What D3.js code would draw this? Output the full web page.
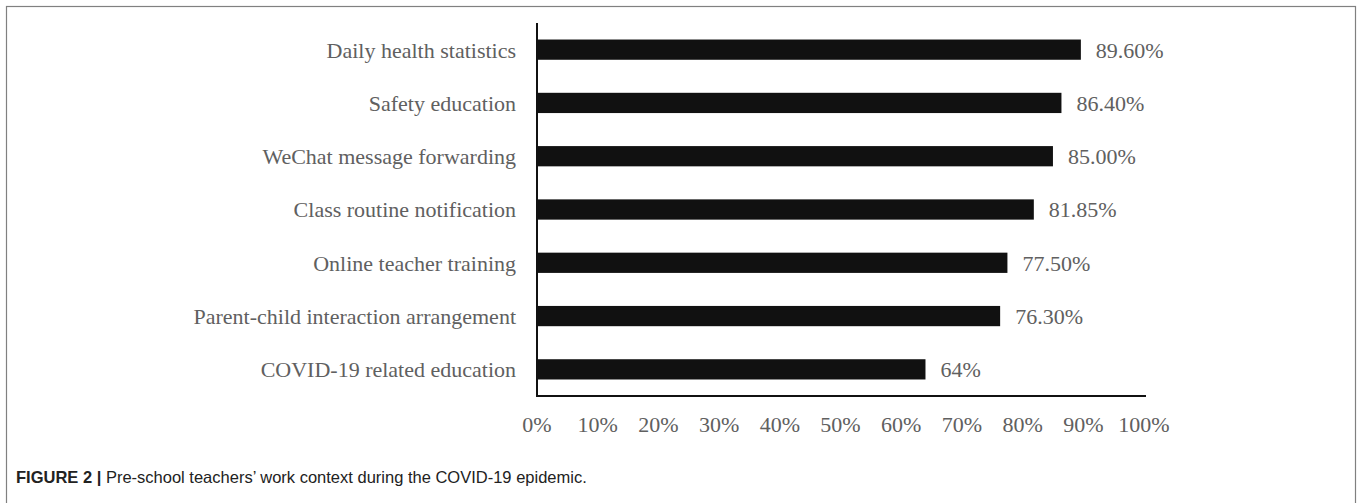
<!DOCTYPE html>
<html>
<head>
<meta charset="utf-8">
<script src="https://cdn.jsdelivr.net/npm/d3@7"></script>
<style>
  html, body { margin: 0; padding: 0; background: #fff; }
  svg { display: block; }
</style>
</head>
<body>
<svg id="chart" width="1357" height="503"></svg>
<script>
// data
var categories = [
  "Daily health statistics",
  "Safety education",
  "WeChat message forwarding",
  "Class routine notification",
  "Online teacher training",
  "Parent-child interaction arrangement",
  "COVID-19 related education"
];
var values = [89.6, 86.4, 85.0, 81.85, 77.5, 76.3, 64];
var valueLabels = ["89.60%", "86.40%", "85.00%", "81.85%", "77.50%", "76.30%", "64%"];
var xTicks = [0, 10, 20, 30, 40, 50, 60, 70, 80, 90, 100];

var svg = d3.select("#chart");
var serif = "'Liberation Serif', 'Times New Roman', serif";
var grey = "#606060";
var fs = 22;

// frame round the figure
svg.append("rect")
  .attr("x", 6.5).attr("y", 6.5)
  .attr("width", 1349).attr("height", 520)
  .attr("fill", "none")
  .attr("stroke", "#808080")
  .attr("stroke-width", 1.2);

var x = d3.scaleLinear().domain([0, 100]).range([537, 1144]);
var y = d3.scaleBand().domain(categories).range([23, 396]).paddingInner(0.62).paddingOuter(0.31);

// bars
svg.selectAll("rect.bar")
  .data(values)
  .enter().append("rect")
  .attr("class", "bar")
  .attr("x", x(0))
  .attr("y", function(d, i){ return y(categories[i]); })
  .attr("width", function(d){ return x(d) - x(0); })
  .attr("height", y.bandwidth())
  .attr("fill", "#111");

// value labels
svg.selectAll("text.val")
  .data(values)
  .enter().append("text")
  .attr("class", "val")
  .attr("x", function(d){ return x(d) + 15; })
  .attr("y", function(d, i){ return y(categories[i]) + y.bandwidth() / 2; })
  .attr("dy", "0.36em")
  .attr("font-family", serif)
  .attr("font-size", fs)
  .attr("fill", grey)
  .text(function(d, i){ return valueLabels[i]; });

// category labels
svg.selectAll("text.cat")
  .data(categories)
  .enter().append("text")
  .attr("class", "cat")
  .attr("x", 516)
  .attr("y", function(d){ return y(d) + y.bandwidth() / 2; })
  .attr("dy", "0.36em")
  .attr("text-anchor", "end")
  .attr("font-family", serif)
  .attr("font-size", fs)
  .attr("fill", grey)
  .text(function(d){ return d; });

// axes lines
svg.append("line")
  .attr("x1", x(0)).attr("x2", x(0))
  .attr("y1", 23).attr("y2", 396)
  .attr("stroke", "#111").attr("stroke-width", 2);
svg.append("line")
  .attr("x1", x(0) - 1).attr("x2", x(100) + 2)
  .attr("y1", 396).attr("y2", 396)
  .attr("stroke", "#111").attr("stroke-width", 2);

// x tick labels
svg.selectAll("text.tick")
  .data(xTicks)
  .enter().append("text")
  .attr("class", "tick")
  .attr("x", function(d){ return x(d); })
  .attr("y", 432)
  .attr("text-anchor", "middle")
  .attr("font-family", serif)
  .attr("font-size", fs)
  .attr("fill", grey)
  .text(function(d){ return d + "%"; });

// caption
var cap = svg.append("text")
  .attr("x", 16)
  .attr("y", 483)
  .attr("font-family", "'Liberation Sans Narrow', 'Arial Narrow', 'Liberation Sans', sans-serif")
  .attr("font-size", 16.5)
  .attr("fill", "#222");
cap.append("tspan").attr("font-weight", "bold").text("FIGURE 2 | ");
cap.append("tspan").text("Pre-school teachers\u2019 work context during the COVID-19 epidemic.");
</script>
</body>
</html>
